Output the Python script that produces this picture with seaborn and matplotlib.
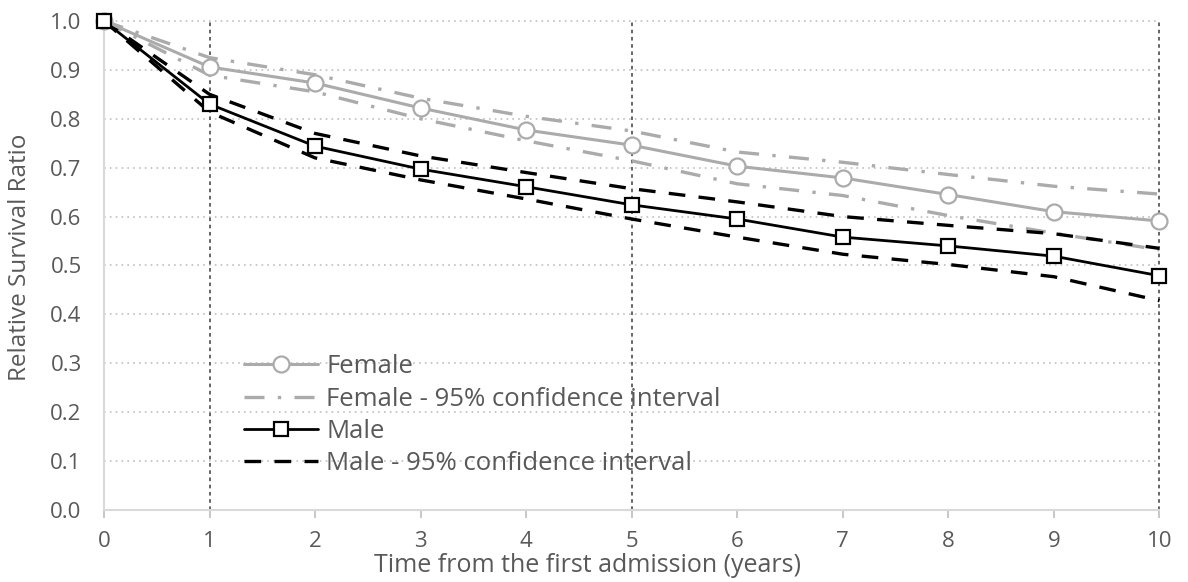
import matplotlib
matplotlib.use('Agg')
import matplotlib.pyplot as plt
import seaborn as sns
import pandas as pd

# --- Data ---
years = [0, 1, 2, 3, 4, 5, 6, 7, 8, 9, 10]

female = [1.0, 0.906, 0.873, 0.822, 0.777, 0.746, 0.703, 0.679, 0.645, 0.610, 0.591]
female_upper = [1.0, 0.925, 0.890, 0.842, 0.805, 0.775, 0.732, 0.711, 0.686, 0.662, 0.646]
female_lower = [1.0, 0.889, 0.855, 0.800, 0.755, 0.714, 0.667, 0.643, 0.602, 0.566, 0.532]

male = [1.0, 0.830, 0.744, 0.697, 0.661, 0.624, 0.595, 0.558, 0.540, 0.519, 0.479]
male_upper = [1.0, 0.850, 0.770, 0.724, 0.690, 0.657, 0.630, 0.600, 0.582, 0.565, 0.535]
male_lower = [1.0, 0.814, 0.720, 0.675, 0.636, 0.595, 0.558, 0.523, 0.502, 0.477, 0.428]

y_ticks = [0.0, 0.1, 0.2, 0.3, 0.4, 0.5, 0.6, 0.7, 0.8, 0.9, 1.0]
x_ticks = years
marked_years = [1, 5, 10]

FEMALE_GREY = '#ABABAB'
TEXT_GREY = '#595959'

df = pd.DataFrame({
    'year': years,
    'female': female, 'female_upper': female_upper, 'female_lower': female_lower,
    'male': male, 'male_upper': male_upper, 'male_lower': male_lower,
})


def main():
    sns.set_theme(style='white')
    plt.rcParams['font.family'] = ['Open Sans', 'DejaVu Sans']

    fig = plt.figure(figsize=(11.88, 5.82), dpi=100)
    ax = fig.add_axes([0.0875, 0.1237, 0.8885, 0.8403])

    # horizontal dotted grid
    for yv in y_ticks[1:]:
        ax.axhline(yv, color='#BFBFBF', lw=1.2, ls=(0, (1, 2.5)), zorder=0)
    # vertical dotted markers at 1, 5 and 10 years
    for xv in marked_years:
        ax.axvline(xv, color=TEXT_GREY, lw=1.3, ls=(0, (2, 2)), zorder=1)

    female_ci_dash = (0, (6, 4, 1, 4))
    male_ci_dash = (0, (5, 4))

    sns.lineplot(data=df, x='year', y='female', ax=ax, color=FEMALE_GREY, lw=2.2,
                 marker='o', markersize=11.5, markerfacecolor='white',
                 markeredgecolor=FEMALE_GREY, markeredgewidth=1.6,
                 label='Female', zorder=3)
    sns.lineplot(data=df, x='year', y='female_upper', ax=ax, color=FEMALE_GREY, lw=2.4,
                 linestyle=female_ci_dash, label='Female - 95% confidence interval', zorder=2)
    sns.lineplot(data=df, x='year', y='female_lower', ax=ax, color=FEMALE_GREY, lw=2.4,
                 linestyle=female_ci_dash, label='_nolegend_', zorder=2)
    sns.lineplot(data=df, x='year', y='male', ax=ax, color='black', lw=2.0,
                 marker='s', markersize=9.5, markerfacecolor='white',
                 markeredgecolor='black', markeredgewidth=1.6,
                 label='Male', zorder=4)
    sns.lineplot(data=df, x='year', y='male_upper', ax=ax, color='black', lw=2.4,
                 linestyle=male_ci_dash, label='Male - 95% confidence interval', zorder=2)
    sns.lineplot(data=df, x='year', y='male_lower', ax=ax, color='black', lw=2.4,
                 linestyle=male_ci_dash, label='_nolegend_', zorder=2)

    ax.set_xlim(0, 10)
    ax.set_ylim(0, 1.0)
    ax.set_xticks(x_ticks)
    ax.set_yticks(y_ticks)
    ax.set_yticklabels([f'{v:.1f}' for v in y_ticks])
    ax.tick_params(axis='x', colors=TEXT_GREY, labelsize=16, length=6, width=1.2,
                   direction='out', color='#BFBFBF', bottom=True, pad=9)
    ax.tick_params(axis='y', colors=TEXT_GREY, labelsize=16, length=0, pad=16)

    for side in ['top', 'right']:
        ax.spines[side].set_visible(False)
    for side in ['left', 'bottom']:
        ax.spines[side].set_color('#D9D9D9')
        ax.spines[side].set_linewidth(1.5)

    ax.set_xlabel('Time from the first admission (years)', fontsize=18, color=TEXT_GREY)
    ax.xaxis.set_label_coords(0.458, -0.088)
    ax.set_ylabel('Relative Survival Ratio', fontsize=17.5, color=TEXT_GREY)
    ax.yaxis.set_label_coords(-0.068, 0.517)

    leg = ax.legend(loc='upper left', bbox_to_anchor=(0.1325, 0.318), frameon=False,
                    fontsize=18.5, handlelength=2.9, handletextpad=0.3, labelspacing=0.28,
                    borderaxespad=0, borderpad=0)
    for text in leg.get_texts():
        text.set_color(TEXT_GREY)

    for line in ax.get_lines():
        line.set_clip_on(False)

    fig.savefig('out.png', dpi=100)
    plt.close(fig)


if __name__ == '__main__':
    main()
